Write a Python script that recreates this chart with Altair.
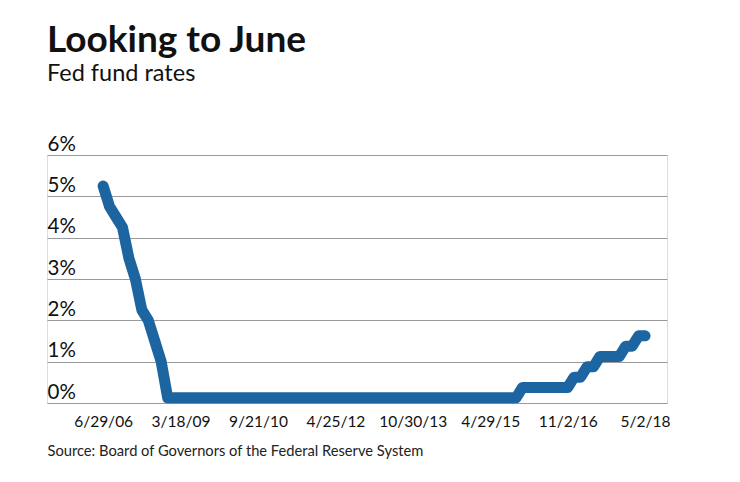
import altair as alt
import pandas as pd

# Fed funds target rate (midpoint of range, %) at each policy meeting,
# starting 6/29/06 and ending 5/2/18.
rates = [
    5.25, 4.75, 4.5, 4.25, 3.5, 3.0, 2.25, 2.0, 1.5, 1.0, 0.125, 0.125,
    0.125, 0.125, 0.125, 0.125, 0.125, 0.125, 0.125, 0.125, 0.125, 0.125, 0.125, 0.125,
    0.125, 0.125, 0.125, 0.125, 0.125, 0.125, 0.125, 0.125, 0.125, 0.125, 0.125, 0.125,
    0.125, 0.125, 0.125, 0.125, 0.125, 0.125, 0.125, 0.125, 0.125, 0.125, 0.125, 0.125,
    0.125, 0.125, 0.125, 0.125, 0.125, 0.125, 0.125, 0.125, 0.125, 0.125, 0.125, 0.125,
    0.125, 0.125, 0.125, 0.125, 0.125, 0.375, 0.375, 0.375, 0.375, 0.375, 0.375, 0.375,
    0.375, 0.625, 0.625, 0.875, 0.875, 1.125, 1.125, 1.125, 1.125, 1.375, 1.375, 1.625,
    1.625,
]

# Dates shown on the x axis, one every 12 meetings
tick_labels = ["6/29/06", "3/18/09", "9/21/10", "4/25/12",
               "10/30/13", "4/29/15", "11/2/16", "5/2/18"]
tick_step = 12

y_ticks = [0, 1, 2, 3, 4, 5, 6]

df = pd.DataFrame({"meeting": list(range(len(rates))), "rate": rates})

tick_values = [i * tick_step for i in range(len(tick_labels))]
label_expr = "[" + ",".join(f"'{t}'" for t in tick_labels) + f"][round(datum.value / {tick_step})]"

FONT = "Lato"

line = alt.Chart(df).mark_line(
    color="#1d65a0", strokeWidth=11, strokeCap="round", strokeJoin="round"
).encode(
    x=alt.X(
        "meeting:Q",
        scale=alt.Scale(domain=[-8.7, 87.4], nice=False, zero=False),
        axis=alt.Axis(
            values=tick_values,
            labelExpr=label_expr,
            grid=False, ticks=False, domain=False, tickSize=0,
            labelFontSize=15.5, labelColor="#111111", labelFont=FONT,
            labelBaseline="alphabetic", labelPadding=23,
            title="Source: Board of Governors of the Federal Reserve System",
            titleFont=FONT, titleFontSize=14.7, titleFontWeight="normal",
            titleColor="#222222", titleAnchor="start", titleAlign="left",
            titleBaseline="alphabetic", titleX=0, titleY=52,
        ),
    ),
    y=alt.Y(
        "rate:Q",
        scale=alt.Scale(domain=[0, 6], nice=False),
        axis=alt.Axis(
            values=y_ticks,
            labelExpr="datum.value + '%'",
            grid=True, gridColor="#9a9a9a", gridWidth=1.2,
            ticks=False, domain=False, tickSize=0,
            labelAlign="left", labelBaseline="alphabetic",
            labelPadding=0, labelOffset=-5,
            labelFontSize=20.5, labelColor="#111111", labelFont=FONT,
            title=None,
        ),
    ),
)

chart = line.properties(
    width=620,
    height=248,
    autosize=alt.AutoSizeParams(type="none"),
    padding={"left": 47, "top": 155, "right": 73, "bottom": 79},
    title=alt.TitleParams(
        text="Looking to June",
        subtitle="Fed fund rates",
        anchor="start",
        frame="group",
        font=FONT, fontSize=37, fontWeight="bold", color="#111111",
        subtitleFont=FONT, subtitleFontSize=23.5, subtitleColor="#111111",
        subtitlePadding=2,
        offset=48,
    ),
).configure_view(stroke=None).configure(background="white")

chart.save("out.html", embed_options={"renderer": "svg", "actions": False})
